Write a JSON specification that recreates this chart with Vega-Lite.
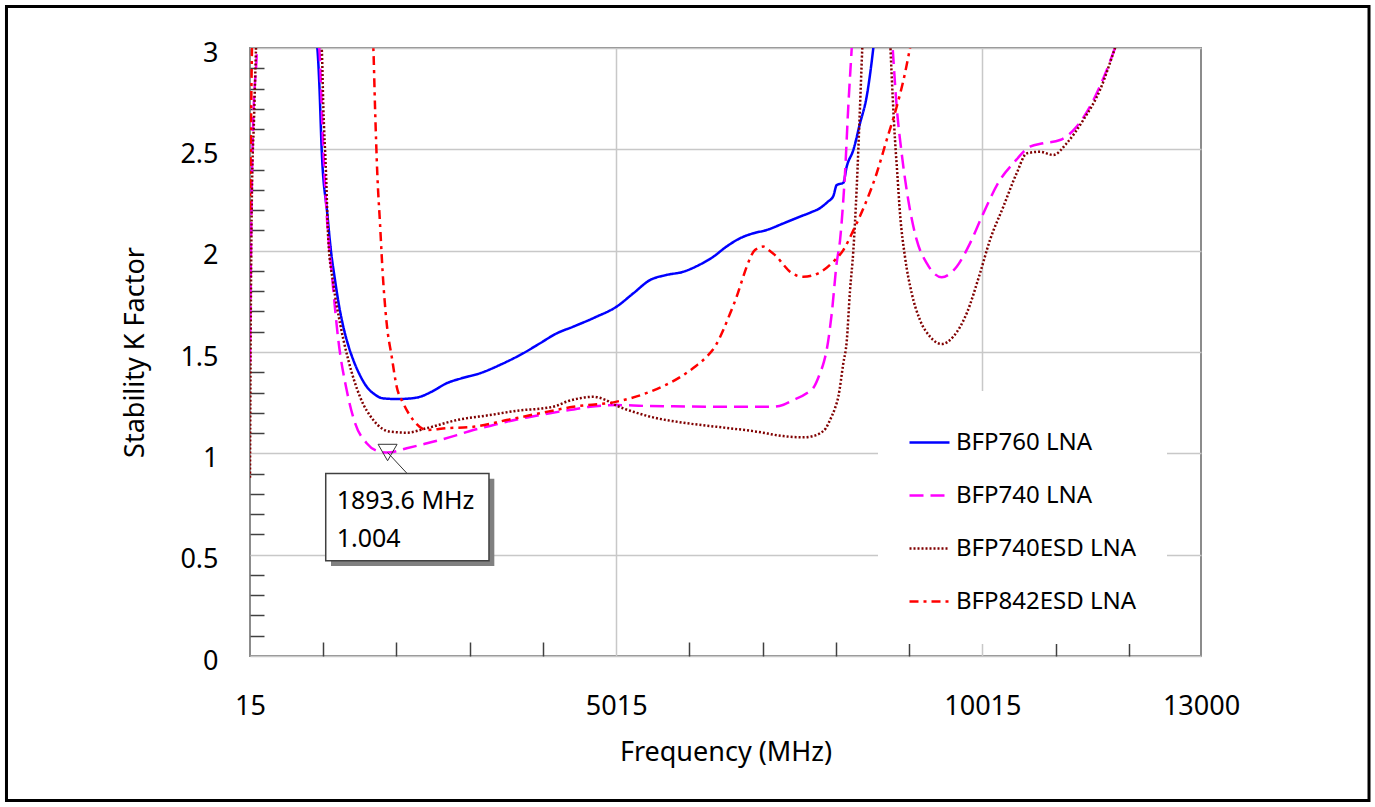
{
  "$schema": "https://vega.github.io/schema/vega-lite/v6.json",
  "width": 951,
  "height": 608,
  "autosize": "none",
  "padding": {"left": 250, "top": 48, "right": 174, "bottom": 151},
  "background": "white",
  "config": {
    "font": "Noto Sans",
    "view": {"stroke": "#8c8c8c", "strokeWidth": 2},
    "axis": {"domain": false}
  },
  "datasets": {
    "curves": [
      {"series": "BFP760 LNA", "freq": 15, "k": 4.5},
      {"series": "BFP760 LNA", "freq": 500, "k": 3.8},
      {"series": "BFP760 LNA", "freq": 934, "k": 3.0},
      {"series": "BFP760 LNA", "freq": 961, "k": 2.826},
      {"series": "BFP760 LNA", "freq": 994, "k": 2.497},
      {"series": "BFP760 LNA", "freq": 1070, "k": 2.184},
      {"series": "BFP760 LNA", "freq": 1120, "k": 2.0},
      {"series": "BFP760 LNA", "freq": 1176, "k": 1.855},
      {"series": "BFP760 LNA", "freq": 1230, "k": 1.73},
      {"series": "BFP760 LNA", "freq": 1289, "k": 1.625},
      {"series": "BFP760 LNA", "freq": 1355, "k": 1.535},
      {"series": "BFP760 LNA", "freq": 1425, "k": 1.461},
      {"series": "BFP760 LNA", "freq": 1510, "k": 1.39},
      {"series": "BFP760 LNA", "freq": 1608, "k": 1.329},
      {"series": "BFP760 LNA", "freq": 1720, "k": 1.29},
      {"series": "BFP760 LNA", "freq": 1835, "k": 1.271},
      {"series": "BFP760 LNA", "freq": 2018, "k": 1.268},
      {"series": "BFP760 LNA", "freq": 2180, "k": 1.27},
      {"series": "BFP760 LNA", "freq": 2336, "k": 1.279},
      {"series": "BFP760 LNA", "freq": 2500, "k": 1.305},
      {"series": "BFP760 LNA", "freq": 2701, "k": 1.346},
      {"series": "BFP760 LNA", "freq": 2900, "k": 1.37},
      {"series": "BFP760 LNA", "freq": 3155, "k": 1.395},
      {"series": "BFP760 LNA", "freq": 3450, "k": 1.44},
      {"series": "BFP760 LNA", "freq": 3747, "k": 1.494},
      {"series": "BFP760 LNA", "freq": 3975, "k": 1.543},
      {"series": "BFP760 LNA", "freq": 4203, "k": 1.592},
      {"series": "BFP760 LNA", "freq": 4429, "k": 1.625},
      {"series": "BFP760 LNA", "freq": 4720, "k": 1.67},
      {"series": "BFP760 LNA", "freq": 5021, "k": 1.724},
      {"series": "BFP760 LNA", "freq": 5250, "k": 1.79},
      {"series": "BFP760 LNA", "freq": 5477, "k": 1.855},
      {"series": "BFP760 LNA", "freq": 5700, "k": 1.88},
      {"series": "BFP760 LNA", "freq": 5931, "k": 1.896},
      {"series": "BFP760 LNA", "freq": 6150, "k": 1.93},
      {"series": "BFP760 LNA", "freq": 6341, "k": 1.97},
      {"series": "BFP760 LNA", "freq": 6520, "k": 2.02},
      {"series": "BFP760 LNA", "freq": 6705, "k": 2.061},
      {"series": "BFP760 LNA", "freq": 6880, "k": 2.085},
      {"series": "BFP760 LNA", "freq": 7070, "k": 2.102},
      {"series": "BFP760 LNA", "freq": 7300, "k": 2.135},
      {"series": "BFP760 LNA", "freq": 7525, "k": 2.168},
      {"series": "BFP760 LNA", "freq": 7680, "k": 2.19},
      {"series": "BFP760 LNA", "freq": 7798, "k": 2.21},
      {"series": "BFP760 LNA", "freq": 7900, "k": 2.24},
      {"series": "BFP760 LNA", "freq": 7980, "k": 2.27},
      {"series": "BFP760 LNA", "freq": 8026, "k": 2.324},
      {"series": "BFP760 LNA", "freq": 8116, "k": 2.335},
      {"series": "BFP760 LNA", "freq": 8162, "k": 2.414},
      {"series": "BFP760 LNA", "freq": 8253, "k": 2.497},
      {"series": "BFP760 LNA", "freq": 8344, "k": 2.628},
      {"series": "BFP760 LNA", "freq": 8435, "k": 2.76},
      {"series": "BFP760 LNA", "freq": 8526, "k": 3.0},
      {"series": "BFP760 LNA", "freq": 8700, "k": 3.7},
      {"series": "BFP760 LNA", "freq": 13000, "k": 5.0},

      {"series": "BFP740 LNA", "freq": 15, "k": 1.45},
      {"series": "BFP740 LNA", "freq": 28, "k": 2.0},
      {"series": "BFP740 LNA", "freq": 56, "k": 2.6},
      {"series": "BFP740 LNA", "freq": 111, "k": 3.0},
      {"series": "BFP740 LNA", "freq": 160, "k": 3.6},
      {"series": "BFP740 LNA", "freq": 600, "k": 3.9},
      {"series": "BFP740 LNA", "freq": 961, "k": 3.0},
      {"series": "BFP740 LNA", "freq": 1016, "k": 2.5},
      {"series": "BFP740 LNA", "freq": 1070, "k": 2.136},
      {"series": "BFP740 LNA", "freq": 1131, "k": 1.89},
      {"series": "BFP740 LNA", "freq": 1221, "k": 1.559},
      {"series": "BFP740 LNA", "freq": 1335, "k": 1.312},
      {"series": "BFP740 LNA", "freq": 1449, "k": 1.15},
      {"series": "BFP740 LNA", "freq": 1608, "k": 1.05},
      {"series": "BFP740 LNA", "freq": 1790, "k": 1.008},
      {"series": "BFP740 LNA", "freq": 1893.6, "k": 1.004},
      {"series": "BFP740 LNA", "freq": 2155, "k": 1.025},
      {"series": "BFP740 LNA", "freq": 2380, "k": 1.045},
      {"series": "BFP740 LNA", "freq": 2609, "k": 1.066},
      {"series": "BFP740 LNA", "freq": 2840, "k": 1.09},
      {"series": "BFP740 LNA", "freq": 3064, "k": 1.115},
      {"series": "BFP740 LNA", "freq": 3290, "k": 1.135},
      {"series": "BFP740 LNA", "freq": 3520, "k": 1.156},
      {"series": "BFP740 LNA", "freq": 3800, "k": 1.177},
      {"series": "BFP740 LNA", "freq": 4111, "k": 1.198},
      {"series": "BFP740 LNA", "freq": 4400, "k": 1.215},
      {"series": "BFP740 LNA", "freq": 4657, "k": 1.23},
      {"series": "BFP740 LNA", "freq": 5021, "k": 1.238},
      {"series": "BFP740 LNA", "freq": 5400, "k": 1.234},
      {"series": "BFP740 LNA", "freq": 5795, "k": 1.232},
      {"series": "BFP740 LNA", "freq": 6500, "k": 1.23},
      {"series": "BFP740 LNA", "freq": 7160, "k": 1.23},
      {"series": "BFP740 LNA", "freq": 7300, "k": 1.24},
      {"series": "BFP740 LNA", "freq": 7433, "k": 1.263},
      {"series": "BFP740 LNA", "freq": 7616, "k": 1.296},
      {"series": "BFP740 LNA", "freq": 7720, "k": 1.33},
      {"series": "BFP740 LNA", "freq": 7798, "k": 1.395},
      {"series": "BFP740 LNA", "freq": 7850, "k": 1.45},
      {"series": "BFP740 LNA", "freq": 7889, "k": 1.51},
      {"series": "BFP740 LNA", "freq": 7958, "k": 1.69},
      {"series": "BFP740 LNA", "freq": 8026, "k": 1.94},
      {"series": "BFP740 LNA", "freq": 8071, "k": 2.05},
      {"series": "BFP740 LNA", "freq": 8116, "k": 2.25},
      {"series": "BFP740 LNA", "freq": 8139, "k": 2.38},
      {"series": "BFP740 LNA", "freq": 8184, "k": 2.71},
      {"series": "BFP740 LNA", "freq": 8231, "k": 3.0},
      {"series": "BFP740 LNA", "freq": 8350, "k": 3.8},
      {"series": "BFP740 LNA", "freq": 8650, "k": 3.8},
      {"series": "BFP740 LNA", "freq": 8790, "k": 3.0},
      {"series": "BFP740 LNA", "freq": 8845, "k": 2.71},
      {"series": "BFP740 LNA", "freq": 8913, "k": 2.48},
      {"series": "BFP740 LNA", "freq": 9003, "k": 2.25},
      {"series": "BFP740 LNA", "freq": 9118, "k": 2.053},
      {"series": "BFP740 LNA", "freq": 9255, "k": 1.938},
      {"series": "BFP740 LNA", "freq": 9459, "k": 1.869},
      {"series": "BFP740 LNA", "freq": 9664, "k": 1.921},
      {"series": "BFP740 LNA", "freq": 9846, "k": 2.036},
      {"series": "BFP740 LNA", "freq": 10028, "k": 2.184},
      {"series": "BFP740 LNA", "freq": 10256, "k": 2.349},
      {"series": "BFP740 LNA", "freq": 10437, "k": 2.431},
      {"series": "BFP740 LNA", "freq": 10665, "k": 2.513},
      {"series": "BFP740 LNA", "freq": 10847, "k": 2.53},
      {"series": "BFP740 LNA", "freq": 11075, "k": 2.546},
      {"series": "BFP740 LNA", "freq": 11303, "k": 2.612},
      {"series": "BFP740 LNA", "freq": 11531, "k": 2.743},
      {"series": "BFP740 LNA", "freq": 11712, "k": 2.891},
      {"series": "BFP740 LNA", "freq": 11826, "k": 3.0},
      {"series": "BFP740 LNA", "freq": 12500, "k": 3.8},
      {"series": "BFP740 LNA", "freq": 13000, "k": 4.2},

      {"series": "BFP740ESD LNA", "freq": 15, "k": 0.88},
      {"series": "BFP740ESD LNA", "freq": 28, "k": 1.8},
      {"series": "BFP740ESD LNA", "freq": 42, "k": 2.3},
      {"series": "BFP740ESD LNA", "freq": 70, "k": 2.65},
      {"series": "BFP740ESD LNA", "freq": 97, "k": 3.0},
      {"series": "BFP740ESD LNA", "freq": 150, "k": 3.6},
      {"series": "BFP740ESD LNA", "freq": 600, "k": 3.9},
      {"series": "BFP740ESD LNA", "freq": 994, "k": 3.0},
      {"series": "BFP740ESD LNA", "freq": 1016, "k": 2.71},
      {"series": "BFP740ESD LNA", "freq": 1053, "k": 2.382},
      {"series": "BFP740ESD LNA", "freq": 1084, "k": 2.053},
      {"series": "BFP740ESD LNA", "freq": 1152, "k": 1.839},
      {"series": "BFP740ESD LNA", "freq": 1244, "k": 1.642},
      {"series": "BFP740ESD LNA", "freq": 1357, "k": 1.461},
      {"series": "BFP740ESD LNA", "freq": 1517, "k": 1.279},
      {"series": "BFP740ESD LNA", "freq": 1699, "k": 1.164},
      {"series": "BFP740ESD LNA", "freq": 1927, "k": 1.107},
      {"series": "BFP740ESD LNA", "freq": 2155, "k": 1.102},
      {"series": "BFP740ESD LNA", "freq": 2428, "k": 1.124},
      {"series": "BFP740ESD LNA", "freq": 2837, "k": 1.164},
      {"series": "BFP740ESD LNA", "freq": 3292, "k": 1.189},
      {"series": "BFP740ESD LNA", "freq": 3747, "k": 1.214},
      {"series": "BFP740ESD LNA", "freq": 3975, "k": 1.22},
      {"series": "BFP740ESD LNA", "freq": 4203, "k": 1.235},
      {"series": "BFP740ESD LNA", "freq": 4339, "k": 1.255},
      {"series": "BFP740ESD LNA", "freq": 4520, "k": 1.272},
      {"series": "BFP740ESD LNA", "freq": 4702, "k": 1.279},
      {"series": "BFP740ESD LNA", "freq": 4860, "k": 1.265},
      {"series": "BFP740ESD LNA", "freq": 5021, "k": 1.235},
      {"series": "BFP740ESD LNA", "freq": 5250, "k": 1.205},
      {"series": "BFP740ESD LNA", "freq": 5477, "k": 1.181},
      {"series": "BFP740ESD LNA", "freq": 5931, "k": 1.151},
      {"series": "BFP740ESD LNA", "freq": 6387, "k": 1.131},
      {"series": "BFP740ESD LNA", "freq": 6933, "k": 1.107},
      {"series": "BFP740ESD LNA", "freq": 7297, "k": 1.085},
      {"series": "BFP740ESD LNA", "freq": 7570, "k": 1.079},
      {"series": "BFP740ESD LNA", "freq": 7700, "k": 1.085},
      {"series": "BFP740ESD LNA", "freq": 7798, "k": 1.099},
      {"series": "BFP740ESD LNA", "freq": 7880, "k": 1.125},
      {"series": "BFP740ESD LNA", "freq": 7934, "k": 1.164},
      {"series": "BFP740ESD LNA", "freq": 8000, "k": 1.22},
      {"series": "BFP740ESD LNA", "freq": 8048, "k": 1.279},
      {"series": "BFP740ESD LNA", "freq": 8116, "k": 1.444},
      {"series": "BFP740ESD LNA", "freq": 8162, "k": 1.55},
      {"series": "BFP740ESD LNA", "freq": 8207, "k": 1.8},
      {"series": "BFP740ESD LNA", "freq": 8253, "k": 2.0},
      {"series": "BFP740ESD LNA", "freq": 8299, "k": 2.31},
      {"series": "BFP740ESD LNA", "freq": 8344, "k": 2.71},
      {"series": "BFP740ESD LNA", "freq": 8375, "k": 3.0},
      {"series": "BFP740ESD LNA", "freq": 8500, "k": 3.8},
      {"series": "BFP740ESD LNA", "freq": 8680, "k": 3.8},
      {"series": "BFP740ESD LNA", "freq": 8760, "k": 3.0},
      {"series": "BFP740ESD LNA", "freq": 8822, "k": 2.546},
      {"series": "BFP740ESD LNA", "freq": 8853, "k": 2.382},
      {"series": "BFP740ESD LNA", "freq": 8890, "k": 2.184},
      {"series": "BFP740ESD LNA", "freq": 8958, "k": 1.97},
      {"series": "BFP740ESD LNA", "freq": 9050, "k": 1.79},
      {"series": "BFP740ESD LNA", "freq": 9163, "k": 1.658},
      {"series": "BFP740ESD LNA", "freq": 9300, "k": 1.576},
      {"series": "BFP740ESD LNA", "freq": 9459, "k": 1.539},
      {"series": "BFP740ESD LNA", "freq": 9618, "k": 1.576},
      {"series": "BFP740ESD LNA", "freq": 9801, "k": 1.691},
      {"series": "BFP740ESD LNA", "freq": 9982, "k": 1.888},
      {"series": "BFP740ESD LNA", "freq": 10119, "k": 2.053},
      {"series": "BFP740ESD LNA", "freq": 10301, "k": 2.217},
      {"series": "BFP740ESD LNA", "freq": 10483, "k": 2.382},
      {"series": "BFP740ESD LNA", "freq": 10620, "k": 2.48},
      {"series": "BFP740ESD LNA", "freq": 10802, "k": 2.488},
      {"series": "BFP740ESD LNA", "freq": 10983, "k": 2.472},
      {"series": "BFP740ESD LNA", "freq": 11166, "k": 2.53},
      {"series": "BFP740ESD LNA", "freq": 11393, "k": 2.645},
      {"series": "BFP740ESD LNA", "freq": 11621, "k": 2.793},
      {"series": "BFP740ESD LNA", "freq": 11826, "k": 3.0},
      {"series": "BFP740ESD LNA", "freq": 12500, "k": 3.8},
      {"series": "BFP740ESD LNA", "freq": 13000, "k": 4.2},

      {"series": "BFP842ESD LNA", "freq": 15, "k": 2.2},
      {"series": "BFP842ESD LNA", "freq": 28, "k": 2.6},
      {"series": "BFP842ESD LNA", "freq": 42, "k": 3.0},
      {"series": "BFP842ESD LNA", "freq": 100, "k": 3.6},
      {"series": "BFP842ESD LNA", "freq": 1000, "k": 4.0},
      {"series": "BFP842ESD LNA", "freq": 1600, "k": 3.4},
      {"series": "BFP842ESD LNA", "freq": 1699, "k": 3.0},
      {"series": "BFP842ESD LNA", "freq": 1722, "k": 2.71},
      {"series": "BFP842ESD LNA", "freq": 1753, "k": 2.382},
      {"series": "BFP842ESD LNA", "freq": 1790, "k": 2.135},
      {"series": "BFP842ESD LNA", "freq": 1827, "k": 1.888},
      {"series": "BFP842ESD LNA", "freq": 1881, "k": 1.642},
      {"series": "BFP842ESD LNA", "freq": 1950, "k": 1.477},
      {"series": "BFP842ESD LNA", "freq": 2018, "k": 1.329},
      {"series": "BFP842ESD LNA", "freq": 2108, "k": 1.247},
      {"series": "BFP842ESD LNA", "freq": 2245, "k": 1.164},
      {"series": "BFP842ESD LNA", "freq": 2428, "k": 1.115},
      {"series": "BFP842ESD LNA", "freq": 2701, "k": 1.124},
      {"series": "BFP842ESD LNA", "freq": 3064, "k": 1.131},
      {"series": "BFP842ESD LNA", "freq": 3520, "k": 1.164},
      {"series": "BFP842ESD LNA", "freq": 3975, "k": 1.198},
      {"series": "BFP842ESD LNA", "freq": 4429, "k": 1.23},
      {"series": "BFP842ESD LNA", "freq": 5021, "k": 1.255},
      {"series": "BFP842ESD LNA", "freq": 5477, "k": 1.304},
      {"series": "BFP842ESD LNA", "freq": 5931, "k": 1.386},
      {"series": "BFP842ESD LNA", "freq": 6100, "k": 1.43},
      {"series": "BFP842ESD LNA", "freq": 6251, "k": 1.477},
      {"series": "BFP842ESD LNA", "freq": 6370, "k": 1.53},
      {"series": "BFP842ESD LNA", "freq": 6477, "k": 1.608},
      {"series": "BFP842ESD LNA", "freq": 6570, "k": 1.69},
      {"series": "BFP842ESD LNA", "freq": 6660, "k": 1.773},
      {"series": "BFP842ESD LNA", "freq": 6730, "k": 1.85},
      {"series": "BFP842ESD LNA", "freq": 6797, "k": 1.921},
      {"series": "BFP842ESD LNA", "freq": 6910, "k": 2.003},
      {"series": "BFP842ESD LNA", "freq": 7024, "k": 2.02},
      {"series": "BFP842ESD LNA", "freq": 7110, "k": 2.0},
      {"series": "BFP842ESD LNA", "freq": 7207, "k": 1.97},
      {"series": "BFP842ESD LNA", "freq": 7300, "k": 1.93},
      {"series": "BFP842ESD LNA", "freq": 7388, "k": 1.896},
      {"series": "BFP842ESD LNA", "freq": 7570, "k": 1.871},
      {"series": "BFP842ESD LNA", "freq": 7798, "k": 1.893},
      {"series": "BFP842ESD LNA", "freq": 7980, "k": 1.946},
      {"series": "BFP842ESD LNA", "freq": 8116, "k": 2.003},
      {"series": "BFP842ESD LNA", "freq": 8253, "k": 2.1},
      {"series": "BFP842ESD LNA", "freq": 8400, "k": 2.217},
      {"series": "BFP842ESD LNA", "freq": 8572, "k": 2.382},
      {"series": "BFP842ESD LNA", "freq": 8708, "k": 2.546},
      {"series": "BFP842ESD LNA", "freq": 8845, "k": 2.71},
      {"series": "BFP842ESD LNA", "freq": 8958, "k": 2.875},
      {"series": "BFP842ESD LNA", "freq": 9027, "k": 3.0},
      {"series": "BFP842ESD LNA", "freq": 9500, "k": 3.8},
      {"series": "BFP842ESD LNA", "freq": 13000, "k": 6.0}
    ],
    "frame": [{"freq": -3310, "freq2": 15294, "k": -0.713, "k2": 3.205}],
    "shadow": [{"freq": 1121, "freq2": 3351, "k": 0.444, "k2": 0.875}],
    "box": [{"freq": 1049, "freq2": 3278, "k": 0.47, "k2": 0.901}],
    "leader": [{"freq": 1893.6, "k": 1.004, "freq2": 2159, "k2": 0.901}],
    "marker": [{"freq": 1893.6, "k": 1.004}],
    "calltext": [
      {"freq": 1199, "k": 0.725, "text": "1893.6 MHz"},
      {"freq": 1199, "k": 0.538, "text": "1.004"}
    ]
  },
  "layer": [
    {
      "data": {"name": "frame"},
      "mark": {"type": "rect", "fillOpacity": 0, "stroke": "black", "strokeWidth": 3, "clip": false},
      "encoding": {
        "x": {
          "field": "freq", "type": "quantitative",
          "scale": {"domain": [15, 13000], "nice": false, "zero": false},
          "axis": {
            "title": "Frequency (MHz)",
            "titleFontSize": 27, "titleFontWeight": "normal", "titleColor": "black", "titlePadding": 20,
            "values": [15, 1015, 2015, 3015, 4015, 5015, 6015, 7015, 8015, 9015, 10015, 11015, 12015, 13000],
            "tickCount": 200,
            "format": "d",
            "labelExpr": "(datum.value == 15 || datum.value == 5015 || datum.value == 10015 || datum.value == 13000) ? datum.label : ''",
            "labelFontSize": 27, "labelColor": "black", "labelPadding": 51, "labelFlush": false, "labelOverlap": false,
            "labelBaseline": "top",
            "tickSize": -14, "tickColor": "#404040", "tickWidth": 1.5,
            "tickOpacity": {"condition": {"test": "datum.value == 15 || datum.value == 5015 || datum.value == 10015 || datum.value == 13000", "value": 0}, "value": 1},
            "grid": true, "gridColor": "#c8c8c8", "gridWidth": 1.5,
            "gridOpacity": {"condition": {"test": "datum.value == 5015 || datum.value == 10015", "value": 1}, "value": 0}
          }
        },
        "x2": {"field": "freq2"},
        "y": {
          "field": "k", "type": "quantitative",
          "scale": {"domain": [0, 3], "nice": false, "zero": false},
          "axis": {
            "title": "Stability K Factor",
            "titleFontSize": 27, "titleFontWeight": "normal", "titleColor": "black", "titlePadding": 30,
            "values": [0, 0.1, 0.2, 0.3, 0.4, 0.5, 0.6, 0.7, 0.8, 0.9, 1, 1.1, 1.2, 1.3, 1.4, 1.5, 1.6, 1.7, 1.8, 1.9, 2, 2.1, 2.2, 2.3, 2.4, 2.5, 2.6, 2.7, 2.8, 2.9, 3],
            "tickCount": 200,
            "format": "~g",
            "labelExpr": "round(datum.value * 10) % 5 == 0 ? datum.label : ''",
            "labelFontSize": 27, "labelColor": "black", "labelPadding": 46, "labelOverlap": false,
            "labelOffset": 5,
            "tickSize": -14, "tickColor": "#404040", "tickWidth": 1.5,
            "tickOpacity": {"condition": {"test": "round(datum.value * 10) % 5 == 0", "value": 0}, "value": 1},
            "grid": true, "gridColor": "#c8c8c8", "gridWidth": 1.5,
            "gridOpacity": {"condition": {"test": "round(datum.value * 10) % 5 == 0", "value": 1}, "value": 0}
          }
        },
        "y2": {"field": "k2"}
      }
    },
    {
      "data": {"name": "curves"},
      "mark": {"type": "line", "clip": true, "strokeWidth": 2.5, "interpolate": "monotone"},
      "encoding": {
        "x": {"field": "freq", "type": "quantitative"},
        "y": {"field": "k", "type": "quantitative"},
        "color": {
          "field": "series", "type": "nominal",
          "scale": {"domain": ["BFP760 LNA", "BFP740 LNA", "BFP740ESD LNA", "BFP842ESD LNA"], "range": ["#0000ff", "#ff00ff", "#800000", "#ff0000"]},
          "legend": {
            "title": null, "orient": "none", "legendX": 628, "legendY": 343, "padding": 30,
            "fillColor": "white", "symbolType": "stroke", "symbolSize": 1600, "symbolStrokeWidth": 2.5,
            "labelFontSize": 24, "labelColor": "black", "labelOffset": 5, "rowPadding": 19, "labelLimit": 400
          }
        },
        "strokeDash": {
          "field": "series", "type": "nominal",
          "scale": {"domain": ["BFP760 LNA", "BFP740 LNA", "BFP740ESD LNA", "BFP842ESD LNA"], "range": [[1, 0], [14, 7], [2, 2], [9, 5, 3, 5]]},
          "legend": {
            "title": null, "orient": "none", "legendX": 628, "legendY": 343, "padding": 30,
            "fillColor": "white", "symbolType": "stroke", "symbolSize": 1600, "symbolStrokeWidth": 2.5,
            "labelFontSize": 24, "labelColor": "black", "labelOffset": 5, "rowPadding": 19, "labelLimit": 400
          }
        }
      }
    },
    {
      "data": {"name": "leader"},
      "mark": {"type": "rule", "color": "#333333", "strokeWidth": 1},
      "encoding": {
        "x": {"field": "freq", "type": "quantitative"},
        "y": {"field": "k", "type": "quantitative"},
        "x2": {"field": "freq2"},
        "y2": {"field": "k2"}
      }
    },
    {
      "data": {"name": "shadow"},
      "mark": {"type": "rect", "fill": "#808080"},
      "encoding": {
        "x": {"field": "freq", "type": "quantitative"},
        "x2": {"field": "freq2"},
        "y": {"field": "k", "type": "quantitative"},
        "y2": {"field": "k2"}
      }
    },
    {
      "data": {"name": "box"},
      "mark": {"type": "rect", "fill": "white", "stroke": "#404040", "strokeWidth": 1.5},
      "encoding": {
        "x": {"field": "freq", "type": "quantitative"},
        "x2": {"field": "freq2"},
        "y": {"field": "k", "type": "quantitative"},
        "y2": {"field": "k2"}
      }
    },
    {
      "data": {"name": "marker"},
      "mark": {"type": "point", "shape": "triangle-down", "size": 361, "filled": false, "stroke": "#333333", "strokeWidth": 1, "opacity": 1},
      "encoding": {
        "x": {"field": "freq", "type": "quantitative"},
        "y": {"field": "k", "type": "quantitative"}
      }
    },
    {
      "data": {"name": "calltext"},
      "mark": {"type": "text", "align": "left", "baseline": "alphabetic", "fontSize": 25, "color": "black"},
      "encoding": {
        "x": {"field": "freq", "type": "quantitative"},
        "y": {"field": "k", "type": "quantitative"},
        "text": {"field": "text"}
      }
    }
  ]
}
